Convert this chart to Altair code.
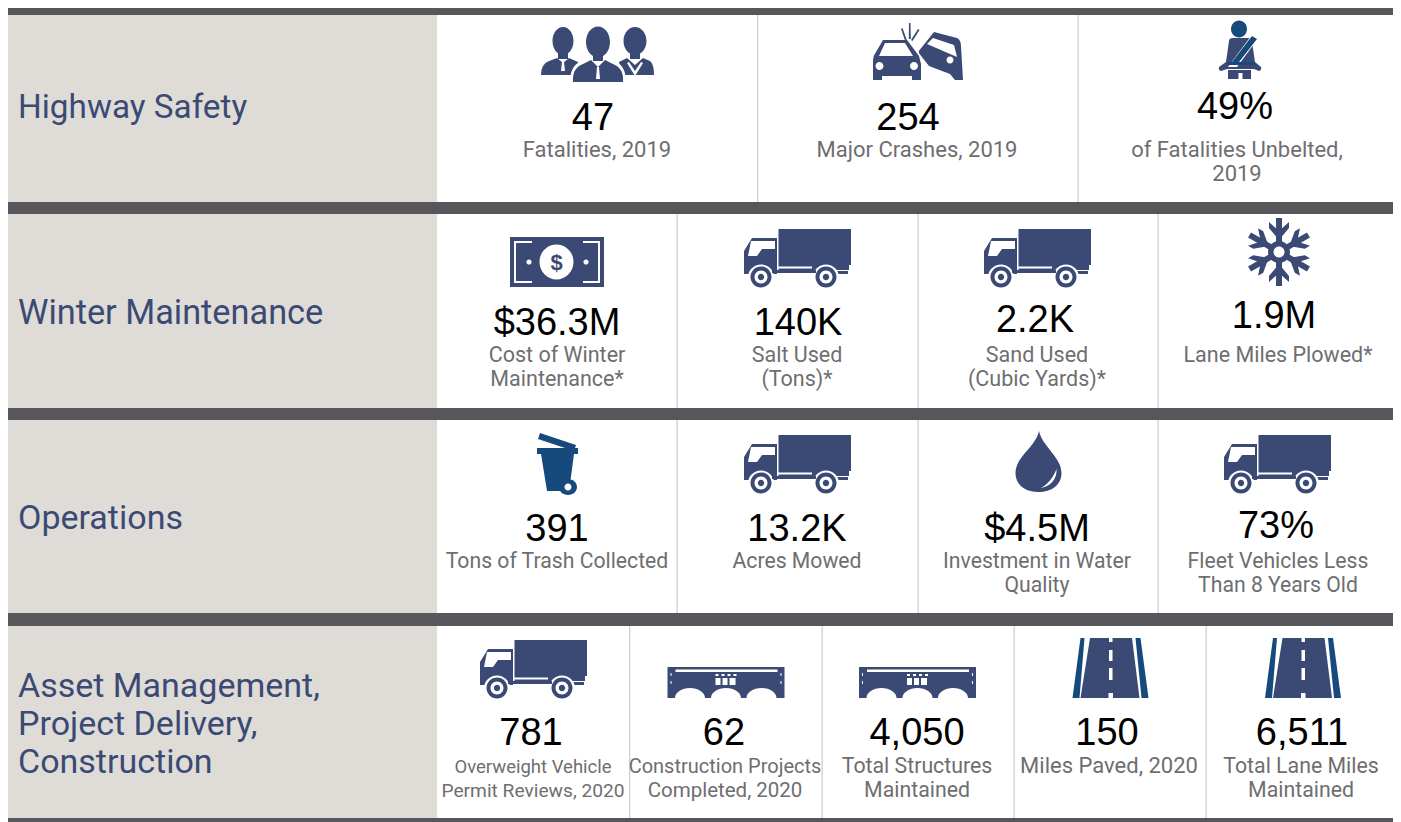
import math
import altair as alt
import pandas as pd

# ---- content ----
section_names = [["Highway Safety"], ["Winter Maintenance"], ["Operations"],
                 ["Asset Management,", "Project Delivery,", "Construction"]]
row1_values = ["47", "254", "49%"]
row1_labels = [["Fatalities, 2019"], ["Major Crashes, 2019"], ["of Fatalities Unbelted,", "2019"]]
row2_values = ["$36.3M", "140K", "2.2K", "1.9M"]
row2_labels = [["Cost of Winter", "Maintenance*"], ["Salt Used", "(Tons)*"],
               ["Sand Used", "(Cubic Yards)*"], ["Lane Miles Plowed*"]]
row3_values = ["391", "13.2K", "$4.5M", "73%"]
row3_labels = [["Tons of Trash Collected"], ["Acres Mowed"],
               ["Investment in Water", "Quality"], ["Fleet Vehicles Less", "Than 8 Years Old"]]
row4_values = ["781", "62", "4,050", "150", "6,511"]
row4_labels = [["Overweight Vehicle", "Permit Reviews, 2020"], ["Construction Projects", "Completed, 2020"],
               ["Total Structures", "Maintained"], ["Miles Paved, 2020"], ["Total Lane Miles", "Maintained"]]

# ---- palette / type ----
BAR = "#57565b"; PANEL = "#dfdcd7"; SEP = "#d0d0d0"; NAVY = "#3b4a75"; BLUE = "#174a7c"; W = "#ffffff"
HEAD_FONT = "Roboto"; LABEL_FONT = "Roboto"; NUM_FONT = "Liberation Sans"

# ---- layout (page pixels) ----
LEFT, MID, RIGHT = 8, 437, 1393
bars = [(8, 15), (202, 214), (408, 420), (613, 626), (818, 822)]
seps = [[757, 1077.5], [676.5, 917.5, 1157.5], [676.5, 917.5, 1157.5], [629, 821.5, 1013.5, 1205.5]]
centers = [[597, 917, 1237], [557, 797, 1037, 1278], [557, 797, 1037, 1278], [533, 725, 917, 1109, 1301]]
num_x = [[593, 908, 1235], [557, 798, 1035, 1274], [557, 797, 1037, 1276], [531, 724, 917, 1107, 1302]]
num_y = [[130, 130, 119], [335, 335, 332, 328], [541, 541, 541, 538], [745, 745, 745, 745, 745]]
lab_y = [157, 362, 568, 773]
head_y = [[118], [324], [529], [697, 735, 773]]
head_sizes = [33.3, 34.3, 34, 34]
label_sizes = [22, 21.5, 21.2, 21.3]
label_overrides = {(3, 0, 0): 18.5, (3, 0, 1): 19.2, (3, 1, 0): 20, (3, 1, 1): 20.5, (3, 3, 0): 22}

rects, texts = [], []
for a, b in bars:
    rects.append(dict(x=LEFT, x2=RIGHT, y=a, y2=b, c=BAR))
for i in range(4):
    top, bot = bars[i][1], bars[i + 1][0]
    rects.append(dict(x=LEFT, x2=MID, y=top, y2=bot, c=PANEL))
    for s in seps[i]:
        rects.append(dict(x=s, x2=s + 1.3, y=top, y2=bot, c=SEP))
    for line, y in zip(section_names[i], head_y[i]):
        texts.append(dict(t=line, x=18, y=y, fs=head_sizes[i], c=NAVY, f=HEAD_FONT, a="left", w=400))

values = [row1_values, row2_values, row3_values, row4_values]
labels = [row1_labels, row2_labels, row3_labels, row4_labels]
for i in range(4):
    for j, v in enumerate(values[i]):
        texts.append(dict(t=v, x=num_x[i][j], y=num_y[i][j], fs=38, c="#000000", f=NUM_FONT, a="center", w=400))
        for k, line in enumerate(labels[i][j]):
            fs = label_overrides.get((i, j, k), label_sizes[i])
            texts.append(dict(t=line, x=centers[i][j], y=lab_y[i] + 24 * k, fs=fs, c="#6e6e70", f=LABEL_FONT, a="center", w=400))
texts.append(dict(t="$", x=556.5, y=270, fs=22, c=NAVY, f=NUM_FONT, a="center", w=700))

# ---- icon glyphs ----
def ell(cx, cy, rx, ry=None):
    ry = rx if ry is None else ry
    return f"M{cx-rx} {cy}A{rx} {ry} 0 1 1 {cx+rx} {cy}A{rx} {ry} 0 1 1 {cx-rx} {cy}Z"

def box(x0, y0, x1, y1):
    return f"M{x0} {y0}H{x1}V{y1}H{x0}Z"

truck = [
    ("M34.5 0H107V36H105V41H34.5Z" + "M8 9H33V45H0V22Z" + box(92, 42, 104, 45), NAVY),
    ("M7 12H31V20H18L13 27H4Z" + box(34, 37.5, 68, 39.5) + ell(17, 48, 13, 12.5) + ell(82, 48, 13, 12.5), W),
    (box(28, 41, 72, 44) + ell(17, 48, 10.5) + ell(82, 48, 10.5), NAVY),
    (ell(17, 48, 6.5) + ell(82, 48, 6.5), W),
    (ell(17, 48, 3.2) + ell(82, 48, 3.2), NAVY),
]
people = [
    (ell(22, 14, 10.5, 14) + "M17 25H27V32H17Z" + "M0 48Q0 37 8 34L16 31L22 36L28 31L37 35V48Z"
     + ell(94, 14, 11.5, 14) + "M89 25H99V32H89Z" + "M78 35L86 31L94 38L102 31L109 34Q113 37 113 48H80Z", NAVY),
    (ell(57, 15, 14, 17) + "M29 55Q29 38 41 34L73 34Q85 38 85 55Z", W),
    (ell(57, 15, 12, 15.5) + "M52 26H62V34H52Z" + "M32 55Q31 41 42 37L50 33L57 40L64 33L72 37Q83 41 82 55Z", NAVY),
    ("M21 35H23L24 44H20Z" + "M56 40H58L59 52H55Z" + "M88 35L94 44L100 35L102 36L94 49L86 36Z", W),
]
def rot(pts, deg, cx, cy):
    a = math.radians(deg)
    return [(round(cx + x * math.cos(a) - y * math.sin(a), 2), round(cy + x * math.sin(a) + y * math.cos(a), 2)) for x, y in pts]
def poly(pts):
    return "M" + "L".join(f"{x} {y}" for x, y in pts) + "Z"

crash = [
    # far car (tilted), then near car with a white halo
    ("M63 10L86 16Q90 18 90 24L92 58H84L79 52L58 44L47 30Z", NAVY),
    ("M62 16L83 23L86 35L56 22Z", W),
    (ell(79, 38, 3.5), W),
    ("M6 56V38Q6 34 9 30L16 15H38L48 30V58H6Z", W),
    ("M2 58V38Q2 34 5 30L12 18H36L48 34L50 42V58H41V54H11V58Z", NAVY),
    ("M14 21H34L42 34H8Z" + ell(8.5, 44, 4) + ell(43, 44, 4), W),
    ("M38 1L39.5 1L39.8 17H37.8Z" + "M30 7L31.5 6L35.8 18L34.2 19Z" + "M47 7L48.5 8L41.5 19L40 18Z", NAVY),
]
belt = [
    (ell(21, 8, 8, 8.5), BLUE),
    ("M11 20Q11 17 15 17H30Q34 17 34 21L37 41H37L43 46Q44 49 41 50L36 48H9L3 50Q0 49 1 46L8 41Z" + "M10 49H33V58H24.5V52H20.5V58H10Z", NAVY),
    ("M33 15L39 19L19 46H10Z", W),
    ("M34 15L39 18L21 41H37V44H10V41H14Z", BLUE),
]
money = [
    (box(0, 0, 94, 50), NAVY),
    ("M22 4H4V46H22V44H6V6H22Z" + "M73 4H90V46H73V44H88V6H73Z" + ell(46.5, 25, 17, 17.5) + ell(19, 25, 2.6) + ell(76, 25, 2.6), W),
]
flake_arms, flake_tips = [], []
for d in range(0, 360, 60):
    flake_arms.append(poly(rot([(-3, -34), (3, -34), (3, -7), (-3, -7)], d, 31, 34)))
    flake_tips.append(poly(rot([(-10, -30), (0, -21), (10, -30), (10, -24), (2.5, -15), (-2.5, -15), (-10, -24)], d, 31, 34)))
flake = [("".join(flake_arms) + ell(31, 34, 11), NAVY), ("".join(flake_tips), NAVY), (ell(31, 34, 5.5), W)]
trash = [
    ("M3 0L39 12L37 18L1 6Z" + box(0, 15, 41, 21) + "M4 21H37L33 51H29L26 58H10Z" + ell(31, 54, 9, 8), BLUE),
    (ell(31, 54, 3.5), W),
]
drop = [
    ("M23.5 0C20 16 0 26 0 42C0 54 10 61 23 61C36 61 46 54 46 42C46 26 27 16 23.5 0Z", NAVY),
    ("M41 38C42 48 34 56 25 57C32 54 38 46 41 38Z", W),
]
bridge = [
    (box(0, 0, 117, 31), NAVY),
    (box(8, 2.5, 110, 5) + ell(22.5, 31, 15, 10) + ell(58.5, 31, 15, 10) + ell(94, 31, 15, 10)
     + box(48, 7, 51, 9) + box(54, 7, 57, 9) + box(60, 7, 63, 9) + box(66, 7, 69, 9)
     + box(48, 11, 53, 18) + box(55, 11, 60, 18) + box(62, 11, 68, 18)
     + box(3, 6, 4, 9) + box(3, 14, 4, 17) + box(113, 6, 114, 9) + box(113, 14, 114, 17), W),
]
road = [
    ("M8 0H12L7 60H0Z" + "M63 0H68L76 60H69Z", BLUE),
    ("M17.5 0H59.5L67 60H8Z", NAVY),
    (box(36.5, 0, 40, 4) + box(36.5, 12, 40, 23) + box(36.5, 30, 40, 42) + box(36, 55, 40.5, 60), W),
]
icons = {"truck": truck, "people": people, "crash": crash, "belt": belt, "money": money,
         "flake": flake, "trash": trash, "drop": drop, "bridge": bridge, "road": road}
placements = [("people", 541, 27), ("crash", 871, 22), ("belt", 1218, 21),
              ("money", 510, 237), ("truck", 744, 229), ("truck", 984, 229), ("flake", 1248, 218),
              ("trash", 537, 433), ("truck", 744, 435), ("drop", 1015.5, 431), ("truck", 1224, 435),
              ("truck", 480, 640), ("bridge", 667.5, 667), ("bridge", 859, 667), ("road", 1072.5, 638), ("road", 1265, 638)]

paths, pieces = [], []
for name, x, y in placements:
    for path, col in icons[name]:
        if path not in paths:
            paths.append(path)
        pieces.append(dict(x=x, y=y, p=f"g{paths.index(path)}", c=col))
glyph_ids = [f"g{i}" for i in range(len(paths))]

# ---- chart ----
X = alt.Scale(domain=[8, 1393], nice=False, zero=False)
Y = alt.Scale(domain=[822, 8], nice=False, zero=False)

rect_layer = alt.Chart(pd.DataFrame(rects)).mark_rect().encode(
    x=alt.X("x:Q", scale=X, axis=None), x2="x2:Q",
    y=alt.Y("y:Q", scale=Y, axis=None), y2="y2:Q",
    color=alt.Color("c:N", scale=None))

icon_layer = alt.Chart(pd.DataFrame(pieces)).mark_point(filled=True, size=4, opacity=1, strokeWidth=0).encode(
    x=alt.X("x:Q", scale=X, axis=None),
    y=alt.Y("y:Q", scale=Y, axis=None),
    shape=alt.Shape("p:N", scale=alt.Scale(domain=glyph_ids, range=paths), legend=None),
    color=alt.Color("c:N", scale=None))

layers = [rect_layer, icon_layer]
tdf = pd.DataFrame(texts)
for (font, align, weight), g in tdf.groupby(["f", "a", "w"]):
    layers.append(alt.Chart(g).mark_text(font=font, align=align, baseline="alphabetic", fontWeight=int(weight)).encode(
        x=alt.X("x:Q", scale=X, axis=None),
        y=alt.Y("y:Q", scale=Y, axis=None),
        text="t:N",
        size=alt.Size("fs:Q", scale=None),
        color=alt.Color("c:N", scale=None)))

chart = alt.layer(*layers).properties(width=1385, height=814, padding=0).configure_view(stroke=None)
chart.save("out.html", embed_options={"renderer": "svg", "actions": False})
